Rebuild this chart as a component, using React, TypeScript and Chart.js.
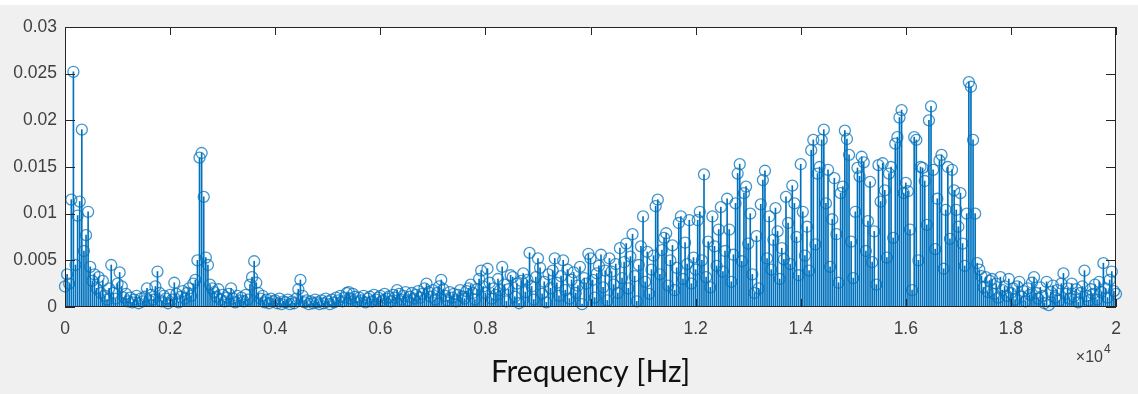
import React, { useEffect, useRef } from 'react';
import { Chart, registerables } from 'chart.js';

Chart.register(...registerables);

// Spectrum bins: one value every FREQ_STEP_HZ, starting at 0 Hz.
const FREQ_STEP_HZ = 40;

// Magnitudes, in units of 1e-3 (50 bins = 2 kHz per array)
const mag0to2k = [
  2.2, 3.5, 2.5, 11.5, 25.2, 4.5, 9.8, 11.3, 19.0, 6.0,
  7.7, 10.2, 4.3, 2.8, 3.5, 2.0, 3.2, 1.5, 2.8, 1.2,
  0.8, 2.0, 4.5, 1.5, 0.9, 2.5, 3.7, 2.2, 1.0, 1.4,
  0.6, 1.0, 0.5, 0.8, 1.2, 0.4, 0.9, 0.6, 1.1, 2.0,
  0.7, 1.3, 0.8, 2.2, 3.8, 1.5, 0.6, 1.2, 0.9, 0.4,
];
const mag2to4k = [
  1.3, 0.8, 2.6, 1.4, 0.5, 1.1, 1.7, 0.9, 1.5, 2.0,
  1.2, 2.5, 2.9, 5.0, 16.0, 16.5, 11.8, 5.3, 4.5, 2.4,
  2.0, 1.6, 1.1, 1.9, 0.8, 1.3, 0.6, 1.0, 1.4, 2.0,
  0.9, 0.5, 1.2, 0.7, 1.0, 0.6, 1.3, 0.8, 2.4, 3.2,
  4.9, 2.6, 1.5, 0.9, 1.2, 0.5, 0.8, 0.4, 0.9, 0.6,
];
const mag4to6k = [
  0.7, 0.4, 0.9, 0.3, 0.6, 0.5, 0.8, 0.3, 0.6, 0.4,
  0.9, 1.9, 2.9, 1.2, 0.5, 0.7, 0.3, 0.6, 0.4, 0.8,
  0.5, 0.3, 0.7, 0.4, 0.9, 0.6, 0.3, 0.8, 0.5, 1.0,
  0.7, 1.2, 0.6, 1.0, 1.5, 1.6, 0.9, 1.4, 1.1, 0.6,
  1.0, 0.7, 1.2, 0.5, 0.9, 1.1, 0.6, 1.3, 0.8, 1.0,
];
const mag6to8k = [
  1.2, 0.7, 1.4, 0.9, 1.1, 0.6, 1.3, 1.0, 1.8, 1.4,
  0.8, 1.2, 1.6, 0.7, 1.1, 1.5, 0.9, 1.3, 1.7, 1.0,
  1.4, 2.0, 2.5, 1.6, 1.1, 1.8, 0.8, 1.5, 2.2, 2.9,
  1.9, 1.2, 0.7, 1.6, 1.0, 1.4, 0.6, 1.3, 1.8, 1.1,
  0.9, 1.7, 2.0, 2.4, 1.5, 0.8, 1.9, 3.0, 3.9, 2.2,
];
const mag8to10k = [
  1.5, 4.1, 2.6, 0.9, 2.0, 1.3, 3.0, 1.8, 4.3, 2.4,
  0.6, 1.9, 3.4, 3.2, 1.1, 2.5, 0.4, 2.8, 3.6, 1.6,
  2.9, 5.8, 2.2, 0.8, 3.2, 5.2, 4.2, 1.4, 2.7, 0.5,
  3.5, 2.0, 3.9, 5.2, 2.6, 1.2, 3.3, 5.0, 1.8, 4.0,
  0.9, 2.9, 3.7, 1.5, 2.3, 4.3, 0.3, 3.1, 2.5, 5.7,
];
const mag10to12k = [
  5.2, 2.9, 1.0, 3.6, 4.4, 5.6, 2.1, 3.9, 0.7, 5.2,
  3.8, 2.4, 4.6, 1.5, 6.3, 3.1, 4.8, 6.8, 2.0, 5.4,
  7.8, 3.3, 0.6, 4.5, 6.5, 9.7, 2.7, 5.9, 1.4, 4.0,
  5.5, 10.8, 11.5, 3.5, 6.1, 7.4, 7.9, 2.3, 5.0, 6.6,
  1.8, 4.2, 9.0, 9.7, 3.0, 6.9, 4.6, 9.3, 2.5, 5.3,
];
const mag12to14k = [
  4.0, 9.3, 10.2, 5.0, 14.2, 3.2, 7.0, 2.1, 9.7, 6.5,
  4.4, 8.3, 10.7, 3.8, 6.0, 11.6, 8.3, 2.7, 5.6, 11.1,
  14.3, 15.3, 4.9, 12.2, 12.9, 6.8, 10.0, 3.5, 1.5, 7.6,
  2.0, 11.0, 13.6, 14.6, 5.2, 9.7, 4.0, 7.2, 10.6, 8.1,
  3.0, 6.3, 5.1, 11.8, 9.0, 4.6, 13.0, 11.1, 7.5, 3.4,
];
const mag14to16k = [
  15.3, 10.2, 5.5, 8.6, 3.9, 16.8, 17.9, 6.7, 14.3, 15.0,
  17.9, 19.0, 11.1, 14.7, 4.3, 9.4, 13.8, 7.8, 2.6, 12.2,
  12.9, 18.9, 18.0, 16.3, 7.0, 3.1, 10.2, 14.9, 14.0, 16.1,
  15.5, 6.0, 9.2, 13.4, 4.8, 8.1, 2.4, 15.2, 11.3, 15.4,
  12.5, 5.3, 14.3, 15.0, 7.4, 17.5, 18.2, 20.3, 21.1, 12.2,
];
const mag16to18k = [
  13.3, 12.4, 8.3, 1.8, 18.2, 17.9, 5.0, 15.0, 14.9, 13.5,
  8.8, 20.0, 21.5, 14.7, 6.2, 11.6, 15.7, 16.3, 4.1, 10.4,
  15.0, 7.3, 14.7, 12.5, 10.4, 8.6, 12.2, 6.8, 4.4, 10.0,
  24.1, 23.6, 17.9, 10.0, 4.7, 4.0, 3.3, 2.1, 3.2, 1.6,
  2.8, 3.0, 1.4, 2.5, 1.0, 3.2, 1.8, 2.2, 1.2, 3.0,
];
const mag18to20k = [
  1.5, 2.0, 0.8, 2.2, 2.7, 1.1, 1.7, 0.6, 2.0, 1.3,
  2.6, 3.2, 1.5, 0.9, 2.1, 1.2, 0.4, 2.7, 0.2, 1.6,
  2.3, 1.0, 1.8, 0.7, 2.5, 3.6, 1.4, 2.0, 0.9, 2.5,
  1.1, 1.9, 0.5, 1.5, 2.2, 3.9, 1.2, 0.7, 1.9, 1.4,
  2.4, 0.8, 2.7, 1.6, 4.7, 2.0, 1.0, 2.9, 3.8, 1.7,
  1.4,
];

const Y_TICK_VALUES = [0, 0.005, 0.01, 0.015, 0.02, 0.025, 0.03];
const Y_TICK_LABELS = ['0', '0.005', '0.01', '0.015', '0.02', '0.025', '0.03'];
const X_TICK_VALUES = [0, 2000, 4000, 6000, 8000, 10000, 12000, 14000, 16000, 18000, 20000];
const X_TICK_LABELS = ['0', '0.2', '0.4', '0.6', '0.8', '1', '1.2', '1.4', '1.6', '1.8', '2'];
const X_TITLE = 'Frequency [Hz]';
const X_MULTIPLIER = '\u00d710';
const X_EXPONENT = '4';

const STEM_COLOR = '#0072BD';
const MARKER_COLOR = 'rgba(0,114,189,0.75)';
const AXIS_COLOR = '#262626';
const TICK_FONT = '"Liberation Sans", Arial, sans-serif';

const magnitudes = [
  ...mag0to2k, ...mag2to4k, ...mag4to6k, ...mag6to8k, ...mag8to10k,
  ...mag10to12k, ...mag12to14k, ...mag14to16k, ...mag16to18k, ...mag18to20k,
];
const points = magnitudes.map((m, i) => ({ x: i * FREQ_STEP_HZ, y: m / 1000 }));

const framePlugin = {
  id: 'matlabFrame',
  beforeDraw(chart: any) {
    const { ctx, chartArea } = chart;
    const { left, top, right, bottom } = chartArea;
    ctx.save();
    ctx.fillStyle = '#f0f0f0';
    ctx.fillRect(0, 0, chart.width, chart.height);
    ctx.fillStyle = '#ffffff';
    ctx.fillRect(0, 0, chart.width, 5);
    ctx.fillRect(left, top, right - left, bottom - top);
    ctx.restore();
  },
  afterDatasetsDraw(chart: any) {
    const { ctx, chartArea, scales } = chart;
    const { left, top, right, bottom } = chartArea;
    const xs = scales.x;
    const ys = scales.y;
    ctx.save();
    ctx.strokeStyle = AXIS_COLOR;
    ctx.lineWidth = 1;
    ctx.beginPath();
    ctx.rect(left + 0.5, top + 0.5, right - left - 1, bottom - top - 1);
    for (const v of X_TICK_VALUES) {
      const px = Math.round(xs.getPixelForValue(v)) + 0.5;
      ctx.moveTo(px, top);
      ctx.lineTo(px, top + 8);
      ctx.moveTo(px, bottom);
      ctx.lineTo(px, bottom - 8);
    }
    for (const v of Y_TICK_VALUES) {
      const py = Math.round(ys.getPixelForValue(v)) + 0.5;
      ctx.moveTo(left, py);
      ctx.lineTo(left + 10, py);
      ctx.moveTo(right, py);
      ctx.lineTo(right - 10, py);
    }
    ctx.stroke();
    ctx.restore();
  },
  afterDraw(chart: any) {
    const { ctx, chartArea } = chart;
    ctx.save();
    ctx.fillStyle = '#404040';
    ctx.textBaseline = 'alphabetic';
    ctx.font = `16px ${TICK_FONT}`;
    ctx.textAlign = 'right';
    const xEnd = chartArea.right - 13;
    ctx.fillText(X_MULTIPLIER, xEnd, 362);
    ctx.font = `12px ${TICK_FONT}`;
    ctx.textAlign = 'left';
    ctx.fillText(X_EXPONENT, xEnd + 1, 353);
    ctx.restore();
  },
};

export default function App() {
  const ref = useRef<HTMLCanvasElement>(null);
  useEffect(() => {
    const canvas = ref.current;
    if (!canvas) return;
    const chart = new Chart(canvas, {
      type: 'scatter',
      data: {
        datasets: [
          {
            type: 'scatter',
            data: points,
            showLine: false,
            pointRadius: 5.5,
            pointBorderWidth: 1.3,
            pointBorderColor: MARKER_COLOR,
            pointBackgroundColor: 'rgba(0,0,0,0)',
            borderColor: MARKER_COLOR,
            backgroundColor: 'rgba(0,0,0,0)',
            clip: false,
            order: 0,
          } as any,
          {
            type: 'bar',
            data: points,
            backgroundColor: STEM_COLOR,
            borderWidth: 0,
            barThickness: 1,
            order: 1,
          } as any,
        ],
      },
      options: {
        responsive: false,
        maintainAspectRatio: false,
        devicePixelRatio: 1,
        animation: false,
        events: [],
        layout: { padding: { top: 27, right: 22, left: 0, bottom: 0 } },
        plugins: { legend: { display: false }, tooltip: { enabled: false } },
        scales: {
          x: {
            type: 'linear',
            min: 0,
            max: 20000,
            offset: false,
            grid: { display: false, drawTicks: false },
            border: { display: false },
            afterBuildTicks: (s: any) => {
              s.ticks = X_TICK_VALUES.map((v) => ({ value: v }));
            },
            afterFit: (s: any) => {
              s.height = 87;
            },
            ticks: {
              autoSkip: false,
              maxRotation: 0,
              padding: 12,
              color: '#404040',
              font: { family: TICK_FONT, size: 17.5 },
              callback: (_v: any, i: number) => X_TICK_LABELS[i],
            },
            title: {
              display: true,
              text: X_TITLE,
              color: '#111111',
              font: { family: 'Lato', size: 30 },
              padding: { top: 0, bottom: 4 },
            },
          },
          y: {
            type: 'linear',
            min: 0,
            max: 0.03,
            grid: { display: false, drawTicks: false },
            border: { display: false },
            afterBuildTicks: (s: any) => {
              s.ticks = Y_TICK_VALUES.map((v) => ({ value: v }));
            },
            afterFit: (s: any) => {
              s.width = 65;
            },
            ticks: {
              autoSkip: false,
              padding: 8,
              color: '#404040',
              font: { family: TICK_FONT, size: 17.5 },
              callback: (_v: any, i: number) => Y_TICK_LABELS[i],
            },
          },
        },
      },
      plugins: [framePlugin],
    } as any);
    return () => chart.destroy();
  }, []);

  return (
    <div style={{ position: 'fixed', left: 0, top: 0, width: 1138, height: 394, background: '#f0f0f0' }}>
      <canvas ref={ref} width={1138} height={394} style={{ display: 'block', width: 1138, height: 394 }} />
    </div>
  );
}
